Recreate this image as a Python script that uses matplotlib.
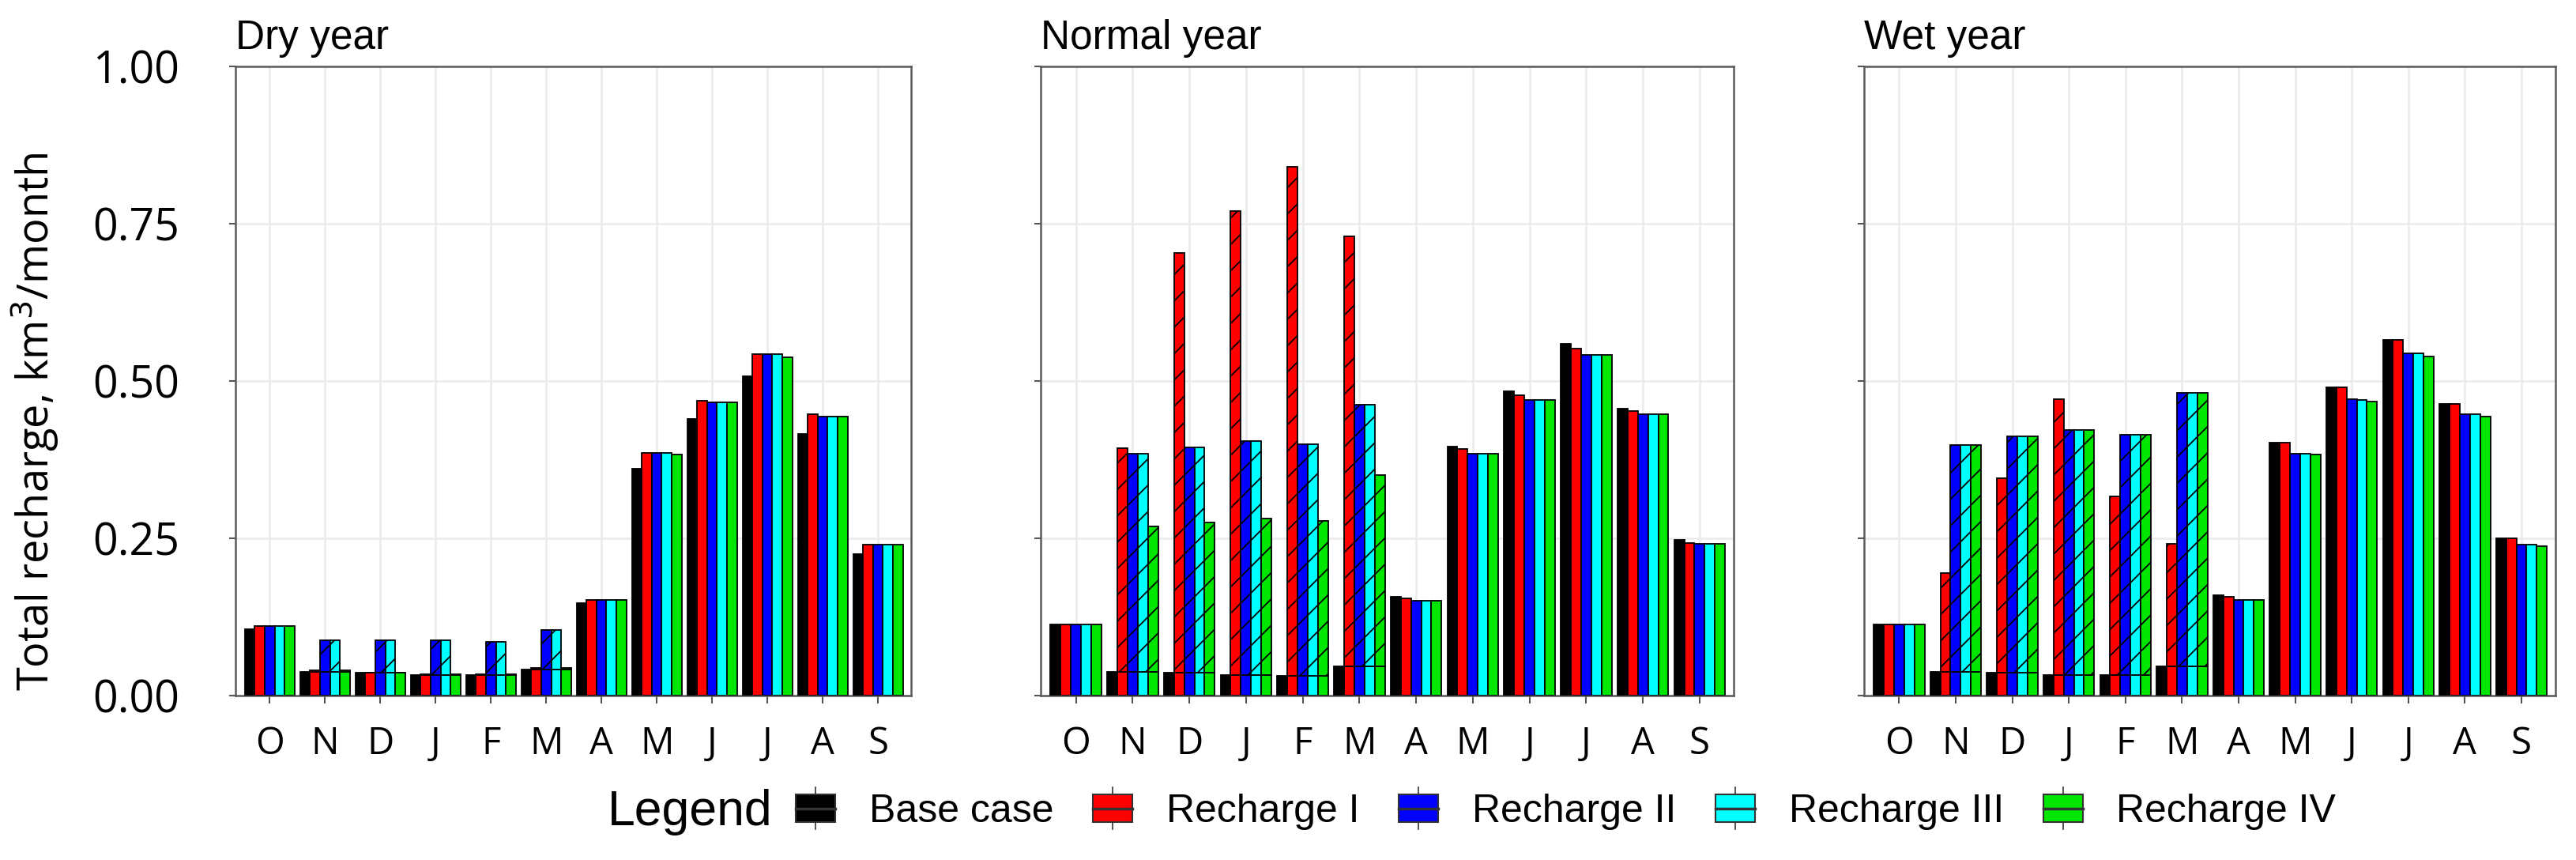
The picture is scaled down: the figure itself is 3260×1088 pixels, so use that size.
import matplotlib
matplotlib.use('Agg')
import matplotlib.pyplot as plt
from matplotlib.patches import Patch, Rectangle
from matplotlib.lines import Line2D
from matplotlib.legend_handler import HandlerBase

months = ['O', 'N', 'D', 'J', 'F', 'M', 'A', 'M', 'J', 'J', 'A', 'S']
scenarios = ['Base case', 'Recharge I', 'Recharge II', 'Recharge III', 'Recharge IV']
colors = ['#000000', '#ff0000', '#0000ff', '#00ffff', '#00e600']
years = ['Dry year', 'Normal year', 'Wet year']
# months with artificial recharge (N..M), drawn hatched above the natural part
recharge_months = [1, 2, 3, 4, 5]

dry_base = [0.105, 0.038, 0.036, 0.033, 0.033, 0.042, 0.147, 0.360, 0.440, 0.507, 0.416, 0.225]
dry_r1 = [0.111, 0.040, 0.037, 0.034, 0.034, 0.044, 0.152, 0.386, 0.469, 0.543, 0.447, 0.240]
dry_r2 = [0.111, 0.088, 0.088, 0.088, 0.086, 0.104, 0.152, 0.386, 0.466, 0.543, 0.444, 0.240]
dry_r3 = [0.111, 0.088, 0.088, 0.088, 0.086, 0.104, 0.152, 0.386, 0.466, 0.543, 0.444, 0.240]
dry_r4 = [0.111, 0.040, 0.037, 0.034, 0.034, 0.044, 0.152, 0.383, 0.466, 0.538, 0.444, 0.240]

normal_base = [0.113, 0.038, 0.036, 0.033, 0.032, 0.046, 0.157, 0.396, 0.484, 0.559, 0.456, 0.247]
normal_r1 = [0.113, 0.393, 0.703, 0.770, 0.840, 0.730, 0.155, 0.392, 0.477, 0.552, 0.452, 0.243]
normal_r2 = [0.113, 0.384, 0.395, 0.405, 0.399, 0.462, 0.151, 0.385, 0.470, 0.542, 0.447, 0.241]
normal_r3 = [0.113, 0.384, 0.395, 0.405, 0.399, 0.462, 0.151, 0.385, 0.470, 0.542, 0.447, 0.241]
normal_r4 = [0.113, 0.269, 0.275, 0.282, 0.278, 0.350, 0.151, 0.385, 0.470, 0.542, 0.447, 0.241]

wet_base = [0.113, 0.038, 0.036, 0.033, 0.033, 0.046, 0.159, 0.402, 0.490, 0.565, 0.463, 0.250]
wet_r1 = [0.113, 0.195, 0.345, 0.471, 0.316, 0.241, 0.157, 0.402, 0.490, 0.565, 0.463, 0.250]
wet_r2 = [0.113, 0.398, 0.412, 0.422, 0.415, 0.481, 0.152, 0.385, 0.471, 0.544, 0.447, 0.240]
wet_r3 = [0.113, 0.398, 0.412, 0.422, 0.415, 0.481, 0.152, 0.385, 0.470, 0.544, 0.447, 0.240]
wet_r4 = [0.113, 0.398, 0.412, 0.422, 0.415, 0.481, 0.152, 0.383, 0.467, 0.539, 0.444, 0.238]

yticks = [0.0, 0.25, 0.5, 0.75, 1.0]
ytick_labels = ['0.00', '0.25', '0.50', '0.75', '1.00']

panels = [
    [dry_base, dry_r1, dry_r2, dry_r3, dry_r4],
    [normal_base, normal_r1, normal_r2, normal_r3, normal_r4],
    [wet_base, wet_r1, wet_r2, wet_r3, wet_r4],
]


class BoxKey(HandlerBase):
    # ggplot-like key: filled box, middle line, small whiskers
    def create_artists(self, legend, orig_handle, xd, yd, width, height, fontsize, trans):
        c = orig_handle.get_facecolor()
        rect = Rectangle((xd, yd), width, height, facecolor=c, edgecolor='#333333',
                         linewidth=1.5, transform=trans)
        mid = Line2D([xd, xd + width], [yd + height / 2] * 2, color='#333333',
                     linewidth=2.5, transform=trans)
        cx = xd + width / 2
        whisk = Line2D([cx, cx], [yd - height * 0.25, yd + height * 1.25], color='#333333',
                       linewidth=1.2, transform=trans, zorder=-1)
        return [whisk, rect, mid]


plt.rcParams['hatch.linewidth'] = 1.3
plt.rcParams['hatch.color'] = '#333333'

fig = plt.figure(figsize=(32.6, 10.88), dpi=100)
boxes = [(0.0914, 0.2623), (0.404, 0.269), (0.7236, 0.2684)]
bottom, height = 0.1912, 0.7316
tick_font = ['Open Sans', 'DejaVu Sans']
title_font = ['Liberation Sans', 'DejaVu Sans']

w = 0.18
for k, (left, width) in enumerate(boxes):
    ax = fig.add_axes([left, bottom, width, height])
    data = panels[k]
    base = data[0]
    for j, vals in enumerate(data):
        for i, v in enumerate(vals):
            x = i + (j - 2) * w
            if j > 0 and i in recharge_months:
                ax.bar(x, base[i], width=w, color=colors[j], edgecolor='black', linewidth=1.3, zorder=3)
                ax.bar(x, v - base[i], bottom=base[i], width=w, color=colors[j],
                       edgecolor='black', linewidth=1.3, hatch='/', zorder=3)
            else:
                ax.bar(x, v, width=w, color=colors[j], edgecolor='black', linewidth=1.3, zorder=3)

    ax.set_xlim(-0.62, 11.6)
    ax.set_ylim(0, 1.0)
    ax.set_xticks(range(len(months)))
    ax.set_xticklabels(months, fontsize=34, family=tick_font)
    ax.set_yticks(yticks)
    if k == 0:
        ax.set_yticklabels(ytick_labels, fontsize=40, family=tick_font)
    else:
        ax.set_yticklabels([])
    ax.tick_params(axis='x', length=7, width=1.5, color='#555555', pad=20)
    ax.tick_params(axis='y', length=6, width=1.5, color='#555555', pad=45)
    ax.grid(True, color='#ebebeb', linewidth=1.8, zorder=0)
    ax.set_axisbelow(True)
    for s in ax.spines.values():
        s.set_color('#5a5a5a')
        s.set_linewidth(1.8)
    ax.set_title(years[k], loc='left', fontsize=37, family=title_font, pad=16)

fig.text(0.0135, 0.51, 'Total recharge, km$^3$/month', rotation=90, va='center', ha='center',
         fontsize=39, family=tick_font)

handles = [Patch(facecolor=c) for c in colors]
fig.text(0.236, 0.056, 'Legend', fontsize=45, family=title_font, va='center', ha='left')
fig.legend(handles, scenarios, loc='center left', bbox_to_anchor=(0.309, 0.056), ncol=5,
           frameon=False, prop={'family': title_font, 'size': 36},
           handler_map={Patch: BoxKey()},
           handlelength=1.0, handleheight=0.7, handletextpad=0.85, columnspacing=1.0,
           borderaxespad=0, borderpad=0)

fig.savefig('out.png', dpi=100)
